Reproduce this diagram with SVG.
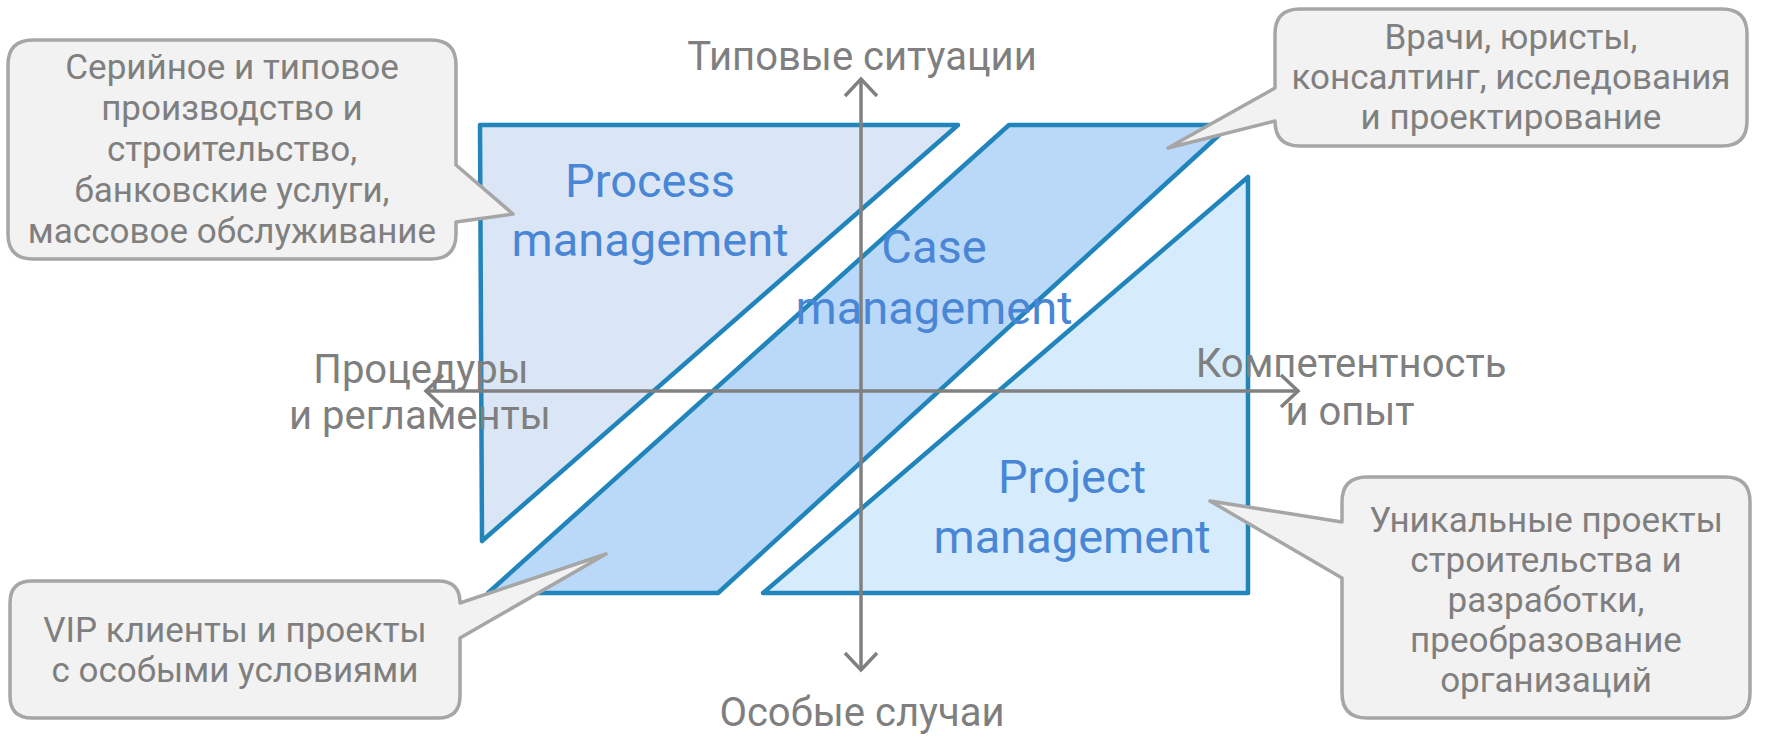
<svg xmlns="http://www.w3.org/2000/svg" width="1767" height="743" viewBox="0 0 1767 743">
<style>
.area{stroke:#2185bb;stroke-width:4.5;stroke-linejoin:round}
.lbl{font-family:Roboto,"Liberation Sans",sans-serif;font-size:47px;fill:#4a86d6;text-anchor:middle}
.ax{font-family:Roboto,"Liberation Sans",sans-serif;font-size:40px;fill:#7f7f7f;text-anchor:middle}
.axis{stroke:#808080;stroke-width:3.5;fill:none}
.call{fill:#f2f2f2;stroke:#a6a6a6;stroke-width:3.5;stroke-linejoin:round}
.ct{font-family:Roboto,"Liberation Sans",sans-serif;font-size:35px;fill:#7f7f7f;text-anchor:middle}
</style>
<defs>
<marker id="arr" markerUnits="userSpaceOnUse" markerWidth="40" markerHeight="40" refX="20" refY="20" orient="auto-start-reverse" viewBox="0 0 40 40">
<path d="M 3,4 L 20,20 L 3,36" fill="none" stroke="#808080" stroke-width="3.5"/>
</marker>
</defs>
<g id="process">
<polygon class="area" fill="#dae6f5" points="480,125 958,125 482,541"/>
<text class="lbl" x="650" y="197">Process</text>
<text class="lbl" x="650" y="256">management</text>
</g>
<g id="case">
<polygon class="area" fill="#bad8f8" points="1009,125 1230,125 718,593 488,593"/>
<text class="lbl" x="934" y="263">Case</text>
<text class="lbl" x="934" y="324">management</text>
</g>
<g id="project">
<polygon class="area" fill="#d6ecfd" points="1248,177 1248,593 763,593"/>
<text class="lbl" x="1072" y="493">Project</text>
<text class="lbl" x="1072" y="553">management</text>
</g>
<g id="connectors">
<line class="axis" x1="861" y1="79" x2="861" y2="670" marker-start="url(#arr)" marker-end="url(#arr)"/>
<line class="axis" x1="426" y1="391" x2="1298" y2="391" marker-start="url(#arr)" marker-end="url(#arr)"/>
</g>
<g id="axis-labels">
<text class="ax" x="862" y="70">Типовые ситуации</text>
<text class="ax" x="862" y="726">Особые случаи</text>
<text class="ax" x="421" y="383">Процедуры</text>
<text class="ax" x="420" y="429">и регламенты</text>
<text class="ax" x="1351" y="377">Компетентность</text>
<text class="ax" x="1350" y="425">и опыт</text>
</g>
<g id="callout-process">
<path class="call" d="M 33,40 H 431 Q 456,40 456,65 V 165 L 513,214 L 456,222 V 234 Q 456,259 431,259 H 33 Q 8,259 8,234 V 65 Q 8,40 33,40 Z"/>
<text class="ct" x="232" y="79">Серийное и типовое</text>
<text class="ct" x="232" y="120">производство и</text>
<text class="ct" x="232" y="161">строительство,</text>
<text class="ct" x="232" y="202">банковские услуги,</text>
<text class="ct" x="232" y="243">массовое обслуживание</text>
</g>
<g id="callout-case">
<path class="call" d="M 1300,9 H 1722 Q 1747,9 1747,34 V 121 Q 1747,146 1722,146 H 1300 Q 1275,146 1275,121 L 1168,148 L 1275,88 V 34 Q 1275,9 1300,9 Z"/>
<text class="ct" x="1511" y="49">Врачи, юристы,</text>
<text class="ct" x="1511" y="89">консалтинг, исследования</text>
<text class="ct" x="1511" y="129">и проектирование</text>
</g>
<g id="callout-vip">
<path class="call" d="M 32,581 H 438 Q 460,581 460,603 L 606,554 L 460,638 V 696 Q 460,718 438,718 H 32 Q 10,718 10,696 V 603 Q 10,581 32,581 Z"/>
<text class="ct" x="235" y="642">VIP клиенты и проекты</text>
<text class="ct" x="235" y="682">с особыми условиями</text>
</g>
<g id="callout-project">
<path class="call" d="M 1367,477 H 1725 Q 1750,477 1750,502 V 693 Q 1750,718 1725,718 H 1367 Q 1342,718 1342,693 V 578 L 1210,501 L 1342,522 V 502 Q 1342,477 1367,477 Z"/>
<text class="ct" x="1546" y="532">Уникальные проекты</text>
<text class="ct" x="1546" y="572">строительства и</text>
<text class="ct" x="1546" y="612">разработки,</text>
<text class="ct" x="1546" y="652">преобразование</text>
<text class="ct" x="1546" y="692">организаций</text>
</g>
</svg>
